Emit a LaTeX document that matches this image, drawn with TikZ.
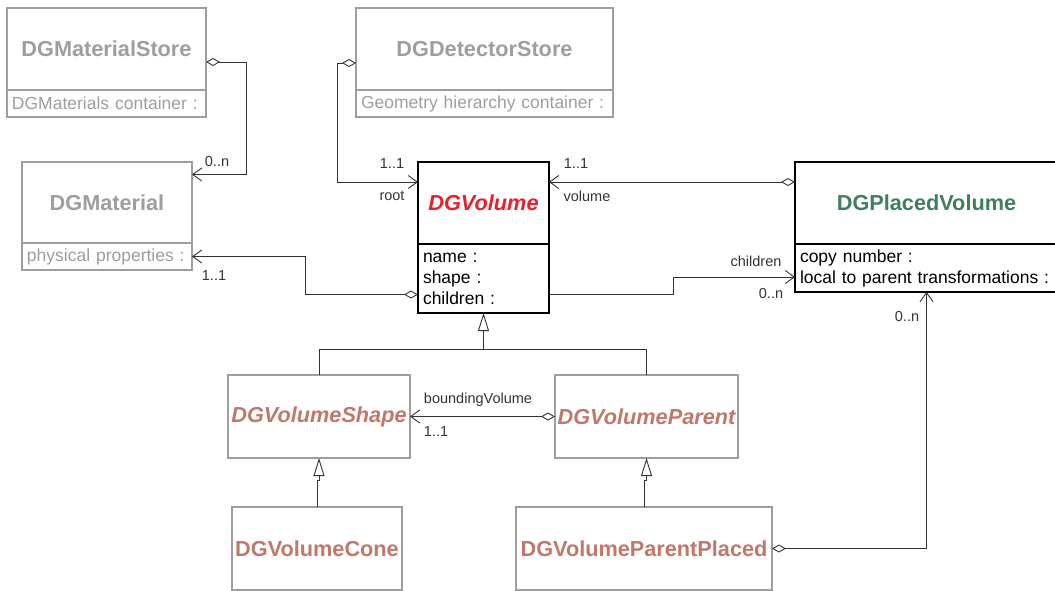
\documentclass[tikz,border=0pt]{standalone}
\usepackage{fontspec}
\setmainfont{Liberation Sans}
\usepackage{tikz}
\usetikzlibrary{positioning,arrows.meta}
\definecolor{umlgray}{HTML}{9E9E9E}
\definecolor{umlred}{HTML}{E8202A}
\definecolor{umlgreen}{HTML}{3F7F5B}
\definecolor{umlbrown}{HTML}{C0786A}
\definecolor{umlline}{HTML}{333333}

\begin{document}
\begin{tikzpicture}[x=1pt,y=1pt,
            cls/.style={draw=umlgray, line width=1.3pt, outer sep=0pt, inner sep=0pt, anchor=north west,
                minimum height=82pt, font=\fontsize{21.7}{24}\selectfont\bfseries},
            attr/.style={draw=umlgray, line width=1.3pt, outer sep=0pt, inner xsep=5pt, inner ysep=0pt,
                text width=#1, align=left, font=\fontsize{17.5}{21}\selectfont},
            ghost/.style={text=umlgray},
            main/.style={draw=black, line width=1.8pt},
            abstract/.style={font=\fontsize{21.7}{24}\selectfont\bfseries\itshape},
            link/.style={draw=umlline, line width=0.9pt},
            assoc/.style={link, -{Straight Barb[length=9pt,width=13pt]}},
            agg/.style={link, {Diamond[open,length=14pt,width=8pt]}-{Straight Barb[length=9pt,width=13pt]}},
            inh/.style={link, -{Triangle[open,length=18pt,width=11pt]}},
            lbl/.style={text=umlline, inner sep=0pt, font=\fontsize{14.5}{16}\selectfont}]
            \useasboundingbox (0,0) rectangle (1055,-590);
            \node[cls, ghost, minimum width=199pt] (mstore) at (7,-8) {DGMaterialStore};
            \node[attr=189pt, ghost, minimum height=27pt, below=0pt of mstore] (mstore-attr) {DGMaterials container :};
            \node[cls, ghost, minimum width=257pt] (dstore) at (356,-8) {DGDetectorStore};
            \node[attr=247pt, ghost, minimum height=27pt, below=0pt of dstore] (dstore-attr) {Geometry hierarchy container :};
            \node[cls, ghost, minimum width=170pt, minimum height=81pt] (mat) at (22,-162) {DGMaterial};
            \node[attr=160pt, ghost, minimum height=27pt, below=0pt of mat] (mat-attr) {physical properties :};
            \node[cls, main, abstract, text=umlred, minimum width=131pt] (vol) at (418,-162) {DGVolume};
            \node[attr=121pt, main, minimum height=69pt, below=0pt of vol] (vol-attr) {name :\\shape :\\children :};
            \node[cls, main, text=umlgreen, minimum width=263pt] (pvol) at (795,-162) {DGPlacedVolume};
            \node[attr=253pt, main, minimum height=48pt, below=0pt of pvol] (pvol-attr) {copy number :\\local to parent transformations :};
            \node[cls, abstract, text=umlbrown, minimum width=182pt, minimum height=83pt] (vshape) at (228,-375) {DGVolumeShape};
            \node[cls, abstract, text=umlbrown, minimum width=183pt, minimum height=83pt] (vparent) at (555,-375) {DGVolumeParent};
            \node[cls, text=umlbrown, minimum width=170pt, minimum height=83pt] (vcone) at (232,-507) {DGVolumeCone};
            \node[cls, text=umlbrown, minimum width=256pt, minimum height=83pt] (vpp) at (516,-507) {DGVolumeParentPlaced};

            \draw[agg] ([yshift=-13pt]mstore.east) -- ++(40pt,0) |- ([yshift=28pt]mat.east);
            \draw[agg] ([yshift=-14pt]dstore.west) -- ++(-19pt,0) |- ([yshift=21pt]vol.west);
            \draw[agg] ([yshift=21pt]pvol.west) -- ([yshift=21pt]vol.east);
            \draw[agg] ([yshift=-16pt]vol-attr.west) -- ++(-113pt,0) |- (mat-attr.east);
            \draw[assoc] ([yshift=-16pt]vol-attr.east) -- ++(124pt,0) |- ([yshift=-9pt]pvol-attr.west);
            \draw[agg] (vparent.west) -- (vshape.east);
            \draw[agg] (vpp.east) -| (pvol-attr.south);
            \coordinate (split) at ([yshift=-36pt]vol-attr.south);
            \draw[inh] (vshape.north) |- (split) -- (vol-attr.south);
            \draw[link] (vparent.north) |- (split);
            \draw[inh] (vcone.north) -- ++(0,27pt) -| (vshape.south);
            \draw[inh] (vpp.north) -- ++(0,27pt) -| (vparent.south);

            \node[lbl] (m-mat) at (217,-162) {0..n};
            \node[lbl] (m-matvol) at (214,-276) {1..1};
            \node[lbl] (m-root) at (392,-164) {1..1};
            \node[lbl] (r-root) at (392,-196) {root};
            \node[lbl] (m-vol) at (576,-164) {1..1};
            \node[lbl] (r-vol) at (587,-196) {volume};
            \node[lbl] (r-child) at (756,-261) {children};
            \node[lbl] (m-child) at (771,-294) {0..n};
            \node[lbl] (m-placed) at (907,-317) {0..n};
            \node[lbl] (r-bound) at (478,-400) {boundingVolume};
            \node[lbl] (m-bound) at (436,-432) {1..1};
\end{tikzpicture}
\end{document}
